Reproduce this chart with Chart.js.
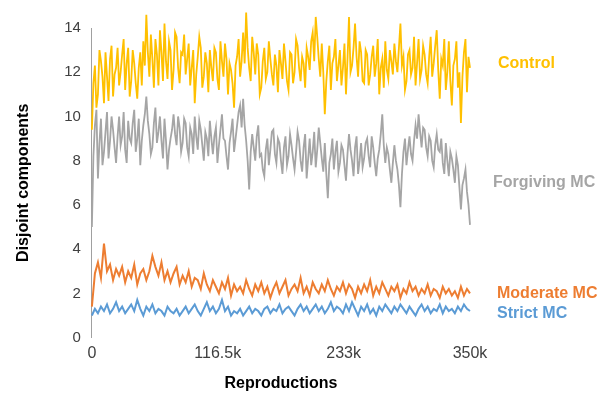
<!DOCTYPE html>
<html>
<head>
<meta charset="utf-8">
<script src="https://cdn.jsdelivr.net/npm/chart.js@4"></script>
<style>
  html, body { margin: 0; padding: 0; background: #fff; }
  #wrap { width: 603px; height: 395px; }
</style>
</head>
<body>
<div id="wrap"><canvas id="chart" width="603" height="395"></canvas></div>
<script>
// Control / Forgiving sampled every 1400 reproductions, Moderate / Strict every 2800
const FINE_STEP = 1400;
const STEP = 2800;
const xTicks = [0, 116500, 233000, 350000];
const yTicks = [0, 2, 4, 6, 8, 10, 12, 14];

const control = [
  9.4, 11.5, 12.3, 10.4, 11.0, 13.0, 12.5, 11.8, 10.6, 12.9, 11.8, 10.7, 12.6, 13.2, 10.9, 11.9, 12.2, 13.1, 11.4, 12.0,
  12.8, 13.5, 11.2, 12.4, 13.1, 10.9, 11.6, 13.0, 12.4, 11.5, 10.8, 12.2, 12.9, 11.4, 13.4, 12.3, 14.6, 12.9, 11.8, 13.7,
  12.6, 11.3, 13.5, 12.8, 11.4, 13.9, 12.9, 11.6, 14.2, 12.5, 11.7, 13.4, 13.0, 11.2, 12.1, 13.8, 13.6, 12.2, 11.5, 12.9,
  12.8, 13.7, 11.9, 12.6, 13.3, 11.4, 12.2, 13.0, 10.6, 11.9, 12.7, 13.6, 13.1, 11.3, 11.8, 12.9, 12.4, 11.1, 13.0, 12.2,
  11.6, 13.1, 12.9, 11.7, 11.2, 13.4, 12.5, 11.8, 13.3, 12.6, 11.0, 12.4, 12.1, 11.5, 10.4, 12.3, 12.7, 13.5, 11.8, 12.5,
  13.8, 12.4, 14.7, 13.1, 12.2, 11.6, 13.6, 12.9, 11.9, 13.3, 12.8, 11.0, 11.3, 12.5, 13.1, 11.7, 12.0, 13.4, 12.6, 11.9,
  11.4, 12.8, 12.3, 11.1, 13.0, 12.4, 11.7, 13.3, 12.5, 11.6, 11.2, 12.9, 12.8, 11.5, 12.0, 13.5, 13.2, 12.2, 11.6, 12.7,
  12.4, 11.3, 13.1, 12.7, 12.1, 13.4, 13.8, 12.5, 14.5, 13.6, 12.6, 11.8, 13.3, 12.0, 10.1, 11.6, 12.5, 13.2, 11.2, 12.4,
  12.7, 13.5, 11.6, 12.3, 13.0, 11.4, 12.2, 13.3, 11.0, 12.6, 14.5, 12.0, 12.3, 13.1, 14.2, 12.7, 11.8, 13.4, 12.9, 11.6,
  11.5, 13.0, 12.8, 11.4, 11.9, 12.7, 13.2, 11.8, 12.4, 13.5, 11.0, 12.2, 12.6, 11.3, 13.4, 12.1, 11.7, 13.0, 12.5, 11.9,
  13.3, 12.5, 12.0, 13.1, 14.2, 12.3, 12.7, 11.2, 11.6, 12.8, 13.0, 11.9, 12.2, 13.6, 11.4, 12.4, 13.5, 11.7, 12.1, 13.2,
  12.8, 11.9, 11.5, 12.7, 13.6, 11.8, 12.4, 13.2, 13.9, 12.1, 10.8, 12.6, 12.3, 13.5, 11.2, 12.0, 13.4, 11.6, 10.5, 12.3,
  12.6, 13.4, 11.3, 12.0, 9.7, 11.8, 12.9, 13.5, 11.1, 12.7, 12.2
];
const forgiving = [
  5.0, 8.2, 9.6, 10.3, 7.2, 8.8, 9.9, 7.8, 8.4, 9.3, 10.2, 8.1, 8.9, 10.0, 9.4, 8.6, 7.9, 9.1, 10.0, 8.7,
  9.1, 10.2, 8.5, 7.9, 9.8, 9.0, 8.8, 9.7, 10.3, 8.4, 9.0, 9.9, 7.8, 8.9, 9.6, 10.1, 10.9, 9.8, 9.2, 8.3,
  8.6, 9.7, 10.4, 8.8, 9.3, 10.0, 8.9, 8.1, 9.9, 8.9, 7.6, 8.5, 9.0, 9.4, 10.1, 9.2, 8.7, 10.0, 9.5, 8.4,
  8.8, 9.9, 9.7, 8.6, 8.2, 9.5, 9.2, 8.3, 10.0, 9.1, 8.5, 9.8, 9.4, 8.7, 8.0, 9.3, 9.0, 8.2, 9.8, 9.0,
  8.3, 9.1, 9.5, 7.9, 8.7, 9.4, 10.1, 9.0, 8.9, 8.2, 7.6, 8.8, 9.3, 9.9, 8.4, 9.0, 9.6, 10.2, 10.5, 9.5,
  10.8, 9.6, 8.9, 8.0, 6.7, 8.4, 9.2, 8.6, 8.0, 9.1, 9.6, 8.2, 8.3, 7.6, 7.3, 8.5, 9.0, 7.8, 8.5, 9.3,
  9.4, 8.3, 7.9, 9.0, 8.8, 8.0, 7.4, 8.6, 9.1, 7.8, 8.2, 9.2, 8.7, 8.1, 7.6, 8.4, 9.3, 8.9, 8.0, 7.5,
  8.6, 9.2, 7.2, 8.1, 9.0, 7.8, 8.4, 9.3, 7.7, 8.5, 9.5, 8.8, 8.1, 7.5, 8.8, 7.4, 6.3, 7.9, 8.3, 9.0,
  7.6, 8.4, 8.9, 7.5, 7.9, 8.7, 8.5, 7.8, 7.1, 8.3, 9.2, 8.5, 8.0, 7.3, 8.6, 9.1, 7.4, 8.0, 8.8, 7.7,
  8.1, 8.8, 9.0, 8.2, 7.7, 9.1, 8.6, 7.9, 7.3, 8.1, 8.5, 9.2, 10.1, 8.7, 7.9, 8.6, 8.3, 7.6, 7.0, 7.9,
  8.7, 8.0, 7.6, 6.9, 5.9, 7.4, 8.4, 9.0, 7.8, 8.5, 9.1, 8.3, 8.0, 8.9, 9.6, 9.0, 10.1, 9.3, 8.6, 9.5,
  9.4, 8.6, 8.2, 9.1, 8.9, 8.0, 7.7, 8.7, 9.2, 8.5, 8.4, 9.0, 7.9, 7.4, 8.8, 8.0, 7.3, 8.4, 8.1, 7.6,
  7.0, 8.2, 7.8, 6.8, 5.8, 6.9, 7.2, 7.6, 6.6, 6.0, 5.1
];
const moderate = [
  1.4, 2.9, 3.4, 2.7, 4.25, 3.0, 3.3, 2.6, 3.1, 2.8,
  3.2, 2.5, 3.0, 2.7, 3.3, 2.4, 2.9, 3.1, 2.6, 3.0,
  3.7, 3.2, 2.8, 3.4, 2.6, 3.0, 2.5, 2.9, 3.2, 2.4,
  2.8, 2.5, 3.0, 2.3, 2.7, 2.6, 2.2, 2.9, 2.4, 2.1,
  2.6, 2.3, 2.0, 2.5, 2.2, 2.7, 1.9, 2.4, 2.1, 2.3,
  2.0, 2.6, 2.2, 1.9, 2.4, 2.1, 2.5, 2.0, 2.3, 1.8,
  2.2, 2.5, 2.0, 2.3, 2.6, 1.9, 2.2, 2.4, 2.1, 2.7,
  2.0, 2.3, 1.9, 2.5, 2.2, 2.0, 2.4, 2.1, 2.6, 2.2,
  1.9, 2.3, 2.1, 2.5, 2.0, 2.4, 2.2, 1.8, 2.3, 2.0,
  2.4, 2.1, 2.6, 1.9, 2.3, 2.0, 2.5, 2.2, 1.9, 2.3,
  2.1, 2.4, 1.8, 2.2, 2.0, 2.5, 2.1, 2.3, 1.9, 2.2,
  2.0, 2.4, 1.9, 2.2, 2.1, 1.8, 2.3, 2.0, 2.2, 1.9,
  2.1, 1.8, 2.3, 1.9, 2.2, 2.0
];
const strict = [
  1.0, 1.3, 1.1, 1.4, 1.2, 1.5, 1.1, 1.3, 1.6, 1.2,
  1.4, 1.1, 1.3, 1.5, 1.2, 1.7, 1.3, 1.0, 1.4, 1.2,
  1.5, 1.1, 1.3, 1.2, 1.0, 1.4, 1.2, 1.1, 1.3, 1.0,
  1.2, 1.4, 1.1, 1.3, 1.5, 1.2, 1.0, 1.3, 1.6, 1.2,
  1.4, 1.1, 1.3, 1.7, 1.2, 1.4, 1.0, 1.2, 1.1, 1.3,
  1.0, 1.2, 1.4, 1.1, 1.3, 1.2, 1.0, 1.3, 1.4, 1.1,
  1.3, 1.2, 1.5, 1.1, 1.3, 1.4, 1.2, 1.0, 1.3, 1.5,
  1.2, 1.4, 1.1, 1.3, 1.5, 1.2, 1.4, 1.1, 1.3, 1.6,
  1.2, 1.4, 1.3, 1.1, 1.5, 1.2, 1.6, 1.3, 1.0, 1.4,
  1.2, 1.5, 1.1, 1.3, 1.0, 1.4, 1.2, 1.5, 1.3, 1.1,
  1.4, 1.2, 1.5, 1.3, 1.1, 1.4, 1.2, 1.0, 1.3, 1.5,
  1.2, 1.4, 1.1, 1.3, 1.2, 1.5, 1.1, 1.4, 1.2, 1.3,
  1.1, 1.4, 1.2, 1.5, 1.3, 1.2
];

const names = ['Control', 'Forgiving MC', 'Moderate MC', 'Strict MC'];
const colors = ['#FFC000', '#A5A5A5', '#ED7D31', '#5B9BD5'];
const labelAt = [12.4, 7.0, 2.0, 1.1]; // y value where the end label sits
const labelDx = [28, 23, 27, 27];

const FONT = '"Liberation Sans", Arial, sans-serif';

function toPoints(arr, step) {
  return arr.map((v, i) => ({ x: i * step, y: v }));
}

const endLabels = {
  id: 'endLabels',
  afterDatasetsDraw(chart) {
    const ctx = chart.ctx;
    const y = chart.scales.y;
    ctx.save();
    ctx.font = 'bold 16px ' + FONT;
    ctx.textBaseline = 'middle';
    ctx.textAlign = 'left';
    names.forEach((n, i) => {
      ctx.fillStyle = colors[i];
      ctx.fillText(n, chart.chartArea.right + labelDx[i], y.getPixelForValue(labelAt[i]));
    });
    ctx.restore();
  }
};

const series = [
  toPoints(control, FINE_STEP),
  toPoints(forgiving, FINE_STEP),
  toPoints(moderate, STEP),
  toPoints(strict, STEP)
];

new Chart(document.getElementById('chart'), {
  type: 'line',
  data: {
    datasets: series.map((s, i) => ({
      label: names[i],
      data: s,
      borderColor: colors[i],
      borderWidth: i < 2 ? 1.8 : 2,
      pointRadius: 0,
      tension: 0,
      clip: false
    }))
  },
  options: {
    responsive: false,
    animation: false,
    layout: { padding: { left: 10, right: 133, top: 28, bottom: -2 } },
    plugins: { legend: { display: false }, tooltip: { enabled: false } },
    scales: {
      x: {
        type: 'linear',
        min: 0,
        max: 350000,
        afterBuildTicks: ax => { ax.ticks = xTicks.map(v => ({ value: v })); },
        ticks: {
          color: '#404040',
          font: { family: FONT, size: 16 },
          padding: 6,
          maxRotation: 0,
          callback: v => v === 0 ? '0' : (v / 1000) + 'k'
        },
        grid: { display: false, drawTicks: false },
        border: { display: false },
        title: {
          display: true,
          text: 'Reproductions',
          color: '#000',
          font: { family: FONT, size: 16, weight: 'bold' },
          padding: { top: 5 }
        }
      },
      y: {
        min: 0,
        max: 14,
        afterBuildTicks: ax => { ax.ticks = yTicks.map(v => ({ value: v })); },
        ticks: {
          color: '#404040',
          font: { family: FONT, size: 15 },
          padding: 11
        },
        grid: { display: false, drawTicks: false },
        border: { display: true, color: '#A0A0A0', width: 1 },
        title: {
          display: true,
          text: 'Disjoint components',
          color: '#000',
          font: { family: FONT, size: 16, weight: 'bold' },
          padding: { bottom: 20 }
        }
      }
    }
  },
  plugins: [endLabels]
});
</script>
</body>
</html>
